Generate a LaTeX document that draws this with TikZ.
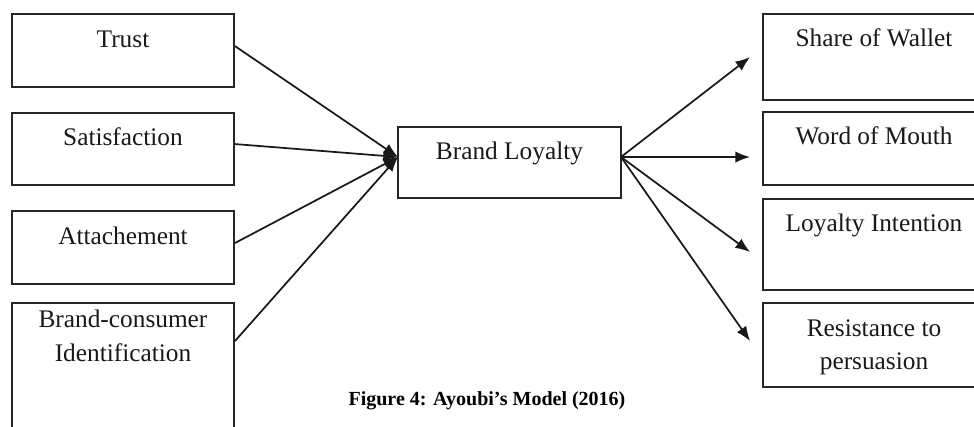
\documentclass[tikz,border=0pt]{standalone}
\usepackage{fontspec}
\setmainfont{Liberation Serif}
\usetikzlibrary{arrows.meta,calc,fit}
\begin{document}
\begin{tikzpicture}[x=0.75pt,y=-0.75pt,
  box/.style={draw=black!85, line width=1.4pt, inner sep=0pt, fill=none},
  lbl/.style={font=\fontsize{19}{25}\selectfont, anchor=base, inner sep=0pt, text=black!90},
  captext/.style={font=\fontsize{15}{18}\selectfont\bfseries, anchor=base, inner sep=0pt},
  con/.style={line width=1.3pt, draw=black!90},
  arr/.style={con, -{Latex[length=11pt,width=8.5pt]}}]
\useasboundingbox (0,0) rectangle (974,427);
\clip (0,0) rectangle (974,427);
% left boxes
\node[box, fit={(12,14)(234,87)}] (trust) {};
\node[box, fit={(12,113)(234,185)}] (sat) {};
\node[box, fit={(12,211)(234,284)}] (att) {};
\node[box, fit={(12,303)(234,445)}] (bci) {};
% centre
\node[box, fit={(398,127)(621,198)}] (bl) {};
% right boxes
\node[box, fit={(763,14)(985,100)}] (sow) {};
\node[box, fit={(763,112)(985,185)}] (wom) {};
\node[box, fit={(763,199)(985,290)}] (li) {};
\node[box, fit={(763,303)(985,387)}] (rp) {};
% labels
\node[lbl] (tTrust) at ($(trust.north)+(0,34)$) {Trust};
\node[lbl] (tSat) at ($(sat.north)+(0,33)$) {Satisfaction};
\node[lbl] (tAtt) at ($(att.north)+(0,34)$) {Attachement};
\node[lbl] (tBci1) at ($(bci.north)+(0,25)$) {Brand-consumer};
\node[lbl] (tBci2) at ($(bci.north)+(0,59)$) {Identification};
\node[lbl] (tBl) at ($(bl.north)+(0,33)$) {Brand Loyalty};
\node[lbl] (tSow) at ($(sow.north)+(0,33)$) {Share of Wallet};
\node[lbl] (tWom) at ($(wom.north)+(0,33)$) {Word of Mouth};
\node[lbl] (tLi) at ($(li.north)+(0,33)$) {Loyalty Intention};
\node[lbl] (tRp1) at ($(rp.north)+(0,34)$) {Resistance to};
\node[lbl] (tRp2) at ($(rp.north)+(0,67)$) {persuasion};
\node[captext] (caption) at (487,405) {Figure 4: Ayoubi’s Model (2016)};
% convergence point
\coordinate (conv) at (398,157);
\coordinate (src) at (621,157);
\draw[arr] ($(trust.north east)+(0,33)$) -- (conv);
\draw[arr] ($(sat.north east)+(0,32)$) -- (conv);
\draw[arr] ($(att.north east)+(0,33)$) -- (conv);
\draw[arr] ($(bci.north east)+(0,39)$) -- (conv);
\draw[arr] (src) -- ($(sow.north west)+(-12,44)$);
\draw[arr] (src) -- ($(wom.north west)+(-12,46)$);
\draw[arr] (src) -- ($(li.north west)+(-12,54)$);
\draw[arr] (src) -- ($(rp.north west)+(-12,39)$);
\end{tikzpicture}
\end{document}
